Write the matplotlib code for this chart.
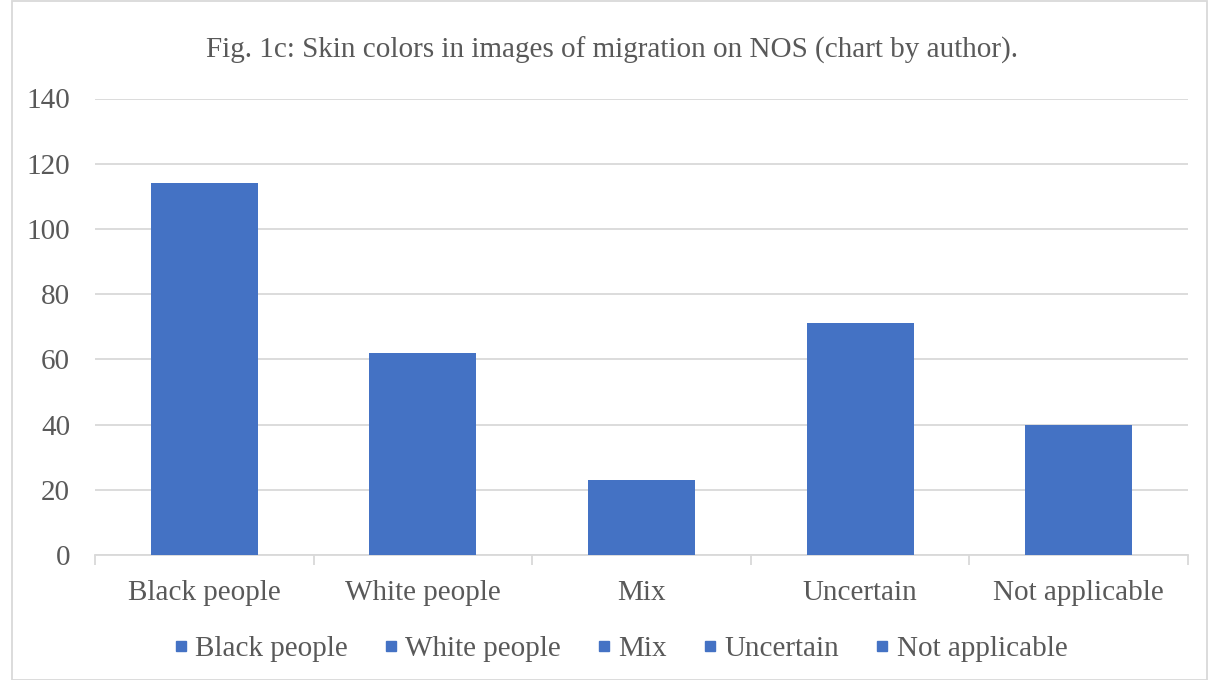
import matplotlib
matplotlib.use("Agg")
import matplotlib.pyplot as plt
from matplotlib.lines import Line2D
from matplotlib.patches import Rectangle
import numpy as np

categories = ["Black people", "White people", "Mix", "Uncertain", "Not applicable"]
values = [114, 62, 23, 71, 40]
yticks = [0, 20, 40, 60, 80, 100, 120, 140]
title = "Fig. 1c: Skin colors in images of migration on NOS (chart by author)."

bar_color = "#4472C4"
grid_color = "#D9D9D9"
text_color = "#595959"

plt.rcParams["font.family"] = ["Liberation Serif", "DejaVu Serif"]

W, H = 1213, 680
fig = plt.figure(figsize=(W / 100, H / 100), dpi=100)
ax = fig.add_axes([95 / W, 1 - 555 / H, (1188 - 95) / W, (555 - 98.5) / H])

x = np.arange(len(categories))
ax.bar(x, values, width=0.49, color=bar_color, zorder=3)

ax.set_xlim(-0.5, len(categories) - 0.5)
ax.set_ylim(0, 140)
ax.set_yticks(yticks)
ax.yaxis.grid(True, color=grid_color, linewidth=1.3, zorder=0)
ax.tick_params(axis="y", length=0, pad=18, labelsize=21, labelcolor=text_color)

# category boundaries as major ticks, labels as minor ticks
ax.set_xticks(np.arange(len(categories) + 1) - 0.5)
ax.set_xticklabels([])
ax.set_xticks(x, minor=True)
ax.set_xticklabels(categories, minor=True)
ax.tick_params(axis="x", which="major", length=7, width=1.3, color=grid_color, direction="out")
ax.tick_params(axis="x", which="minor", length=0, pad=18, labelsize=21, labelcolor=text_color)

for s in ["top", "right", "left"]:
    ax.spines[s].set_visible(False)
ax.spines["bottom"].set_color(grid_color)
ax.spines["bottom"].set_linewidth(1.3)

fig.text(612 / W, 1 - 50 / H, title, ha="center", va="center", fontsize=21, color=text_color)

handles = [Line2D([0], [0], marker="s", linestyle="none", markersize=6.5,
                  markerfacecolor=bar_color, markeredgecolor=bar_color) for _ in categories]
fig.legend(handles, categories, loc="center", bbox_to_anchor=(619 / W, 1 - 649 / H), ncol=5,
           frameon=False, fontsize=21, labelcolor=text_color, handletextpad=0.15,
           columnspacing=1.12, handlelength=0.7)

fig.patches.append(Rectangle((12 / W, 0.5 / H), (1207 - 12) / W, (H - 1.5) / H,
                             transform=fig.transFigure, fill=False, edgecolor=grid_color,
                             linewidth=1.3))

fig.savefig("out.png", dpi=100, facecolor="white")
